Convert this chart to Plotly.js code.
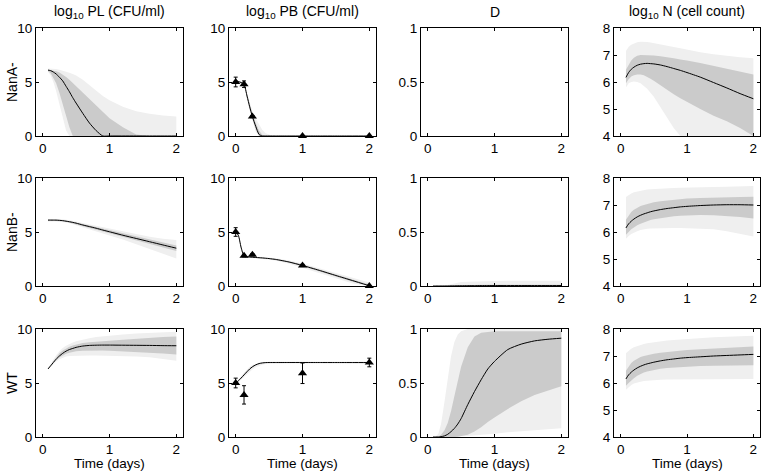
<!DOCTYPE html>
<html><head><meta charset="utf-8">
<script src="https://cdn.plot.ly/plotly-3.0.1.min.js"></script>
<style>html,body{margin:0;padding:0;background:#fff}#chart{width:763px;height:472px}</style>
</head><body><div id="chart"></div>
<script>
// time grids (days)
const T  = [0.08,0.12,0.16,0.2,0.25,0.3,0.35,0.4,0.45,0.5,0.6,0.7,0.8,0.9,1.0,1.2,1.4,1.6,1.8,2.0];
const TB = [0,0.04,0.08,0.125,0.17,0.21,0.25,0.3,0.35,0.4,0.45,0.5,0.55,0.6,0.8,1.0,1.25,1.5,1.75,2.0];
const obsT_A = [0,0.125,0.25,1,2];
const obsT_B = [0,0.125,0.25,1,2];
const obsT_W = [0,0.125,1,2];

const rowLabels = ["NanA-","NanB-","WT"];
const colTitles = ["log<sub>10</sub> PL (CFU/ml)","log<sub>10</sub> PB (CFU/ml)","D","log<sub>10</sub> N (cell count)"];

// ---- NanA- ----
const A_PL_line = [6.1,6.05,5.92,5.75,5.45,5.1,4.6,4.1,3.55,3.05,2.1,1.2,0.5,0,0,0,0,0,0,0];
const A_PL_dU   = [6.15,6.12,6.07,6.0,5.87,5.7,5.47,5.2,4.9,4.6,4.0,3.4,2.8,2.2,1.65,0.8,0.15,0,0,0];
const A_PL_dL   = [6.0,5.8,5.4,4.9,4.0,3.0,1.9,0.8,0,0,0,0,0,0,0,0,0,0,0,0];
const A_PL_lU   = [6.25,6.24,6.22,6.2,6.13,6.05,5.95,5.85,5.73,5.6,5.2,4.7,4.2,3.7,3.3,2.7,2.3,2.05,1.9,1.8];
const A_PL_lL   = [5.95,5.6,5.0,4.2,3.0,1.8,0.5,0,0,0,0,0,0,0,0,0,0,0,0,0];

const A_PB_line = [5.1,5.05,4.95,4.8,3.7,2.7,1.8,0.9,0.15,0,0,0,0,0,0,0,0,0,0,0];
const A_PB_dU   = [5.15,5.1,5.0,4.85,3.85,2.9,2.05,1.2,0.5,0.1,0,0,0,0,0,0,0,0,0,0];
const A_PB_dL   = [5.05,5.0,4.9,4.7,3.55,2.5,1.6,0.6,0,0,0,0,0,0,0,0,0,0,0,0];
const A_PB_lU   = [5.2,5.15,5.05,4.9,4.0,3.1,2.3,1.6,1.0,0.55,0.25,0.1,0.02,0,0,0,0,0,0,0];
const A_PB_lL   = [5.0,4.95,4.85,4.65,3.4,2.35,1.4,0.4,0,0,0,0,0,0,0,0,0,0,0,0];
const A_PB_obs  = [5.0,4.8,1.8,0,0];
const A_PB_err  = [0.45,0.3,0.1,0,0];

const A_N_line  = [6.17,6.35,6.47,6.55,6.62,6.66,6.68,6.69,6.68,6.67,6.63,6.57,6.5,6.43,6.35,6.18,5.98,5.78,5.57,5.38];
const A_N_dU    = [6.45,6.65,6.8,6.9,6.97,7.0,7.0,7.0,6.99,6.98,6.95,6.92,6.88,6.83,6.8,6.7,6.6,6.5,6.4,6.28];
const A_N_dL    = [5.95,6.1,6.2,6.25,6.28,6.28,6.25,6.2,6.12,6.05,5.9,5.72,5.55,5.4,5.25,5.0,4.75,4.55,4.3,4.0];
const A_N_lU    = [7.15,7.3,7.38,7.43,7.47,7.49,7.49,7.48,7.46,7.44,7.4,7.35,7.3,7.25,7.2,7.1,7.03,6.97,6.92,6.88];
const A_N_lL    = [5.8,5.95,6.0,6.02,6.0,5.95,5.85,5.75,5.6,5.45,5.1,4.7,4.3,4.0,4.0,4.0,4.0,4.0,4.0,4.0];

// ---- NanB- ----
const B_PL_line = [6.1,6.1,6.1,6.1,6.08,6.05,6.0,5.95,5.89,5.82,5.65,5.5,5.35,5.18,5.02,4.7,4.4,4.1,3.8,3.5];
const B_PL_dU   = [6.15,6.15,6.15,6.15,6.13,6.1,6.06,6.01,5.96,5.89,5.73,5.59,5.45,5.29,5.14,4.84,4.56,4.28,4.0,3.75];
const B_PL_dL   = [6.05,6.05,6.05,6.04,6.02,5.99,5.94,5.88,5.81,5.74,5.56,5.4,5.24,5.06,4.88,4.54,4.22,3.9,3.58,3.25];
const B_PL_lU   = [6.2,6.2,6.2,6.2,6.19,6.17,6.13,6.09,6.04,5.98,5.84,5.71,5.58,5.44,5.31,5.05,4.8,4.57,4.38,4.25];
const B_PL_lL   = [5.98,5.98,5.98,5.97,5.95,5.92,5.87,5.81,5.74,5.66,5.46,5.27,5.08,4.88,4.68,4.3,3.9,3.45,3.0,2.55];

const B_PB_line = [5.0,4.7,3.6,2.75,2.7,2.68,2.66,2.64,2.62,2.6,2.57,2.54,2.5,2.46,2.22,1.9,1.45,0.97,0.5,0.02];
const B_PB_dU   = [5.02,4.75,3.7,2.8,2.74,2.72,2.7,2.68,2.66,2.64,2.61,2.58,2.55,2.51,2.28,1.98,1.53,1.06,0.6,0.14];
const B_PB_dL   = [4.98,4.65,3.5,2.7,2.66,2.64,2.62,2.6,2.58,2.56,2.53,2.5,2.45,2.41,2.15,1.82,1.37,0.88,0.4,0];
const B_PB_lU   = [5.05,4.8,3.8,2.85,2.78,2.76,2.74,2.72,2.7,2.68,2.66,2.63,2.6,2.57,2.35,2.08,1.65,1.2,0.75,0.32];
const B_PB_lL   = [4.95,4.6,3.4,2.65,2.62,2.6,2.58,2.56,2.53,2.5,2.47,2.44,2.4,2.35,2.05,1.7,1.22,0.72,0.22,0];
const B_PB_obs  = [5.0,2.8,2.9,1.9,0.0];
const B_PB_err  = [0.4,0.1,0.1,0.1,0.05];

const B_D_line  = [0,0,0,0,0,0,0.001,0.001,0.002,0.002,0.003,0.003,0.004,0.004,0.004,0.004,0.004,0.004,0.004,0.004];
const B_D_dU    = [0,0,0,0,0.001,0.002,0.004,0.006,0.008,0.009,0.01,0.011,0.012,0.012,0.012,0.012,0.012,0.012,0.012,0.012];
const B_D_dL    = [0,0,0,0,0,0,0,0,0,0,0,0,0,0,0,0,0,0,0,0];
const B_D_lU    = [0,0,0,0.001,0.004,0.01,0.018,0.026,0.032,0.036,0.04,0.043,0.045,0.046,0.047,0.048,0.048,0.048,0.048,0.048];
const B_D_lL    = [0,0,0,0,0,0,0,0,0,0,0,0,0,0,0,0,0,0,0,0];

const B_N_line  = [6.15,6.3,6.4,6.48,6.56,6.62,6.67,6.71,6.75,6.78,6.83,6.87,6.9,6.93,6.95,6.98,7.0,7.01,7.01,7.0];
const B_N_dU    = [6.45,6.62,6.74,6.82,6.9,6.96,7.0,7.04,7.07,7.1,7.14,7.17,7.2,7.22,7.24,7.26,7.28,7.29,7.3,7.31];
const B_N_dL    = [5.9,6.0,6.1,6.17,6.25,6.31,6.36,6.4,6.44,6.47,6.52,6.55,6.58,6.6,6.62,6.63,6.62,6.6,6.56,6.5];
const B_N_lU    = [7.3,7.38,7.43,7.47,7.5,7.53,7.55,7.57,7.58,7.59,7.61,7.62,7.63,7.64,7.65,7.66,7.67,7.68,7.69,7.7];
const B_N_lL    = [5.75,5.85,5.93,5.98,6.03,6.07,6.1,6.12,6.13,6.14,6.15,6.15,6.15,6.15,6.15,6.13,6.1,6.03,5.94,5.83];

// ---- WT ----
const W_PL_line = [6.3,6.6,6.9,7.2,7.5,7.75,7.95,8.1,8.2,8.3,8.42,8.48,8.5,8.51,8.51,8.5,8.49,8.48,8.46,8.45];
const W_PL_dU   = [6.35,6.7,7.05,7.4,7.75,8.0,8.2,8.35,8.47,8.57,8.7,8.78,8.84,8.88,8.92,9.0,9.1,9.18,9.25,9.3];
const W_PL_dL   = [6.3,6.55,6.85,7.1,7.35,7.55,7.7,7.8,7.88,7.93,7.98,8.0,8.0,8.0,7.98,7.94,7.88,7.8,7.72,7.65];
const W_PL_lU   = [6.4,6.8,7.2,7.55,7.95,8.25,8.45,8.62,8.75,8.86,9.02,9.15,9.25,9.33,9.4,9.5,9.58,9.65,9.7,9.75];
const W_PL_lL   = [6.25,6.5,6.75,7.0,7.2,7.35,7.45,7.5,7.52,7.54,7.55,7.55,7.54,7.53,7.52,7.5,7.45,7.38,7.25,7.05];

const W_PB_line = [5.0,5.2,5.45,5.75,6.05,6.3,6.5,6.68,6.8,6.86,6.89,6.9,6.9,6.9,6.9,6.9,6.9,6.9,6.9,6.9];
const W_PB_dU   = [5.02,5.25,5.5,5.82,6.12,6.37,6.56,6.72,6.83,6.88,6.91,6.92,6.92,6.92,6.92,6.92,6.92,6.92,6.92,6.92];
const W_PB_dL   = [4.98,5.15,5.4,5.68,5.98,6.23,6.44,6.63,6.76,6.83,6.86,6.87,6.87,6.87,6.87,6.87,6.87,6.87,6.87,6.87];
const W_PB_lU   = [5.05,5.3,5.6,5.95,6.25,6.5,6.67,6.8,6.88,6.92,6.94,6.95,6.95,6.95,6.95,6.95,6.95,6.95,6.95,6.95];
const W_PB_lL   = [4.95,5.1,5.3,5.55,5.8,6.05,6.25,6.45,6.6,6.7,6.75,6.78,6.8,6.8,6.8,6.8,6.8,6.8,6.78,6.75];
const W_PB_obs  = [5.0,3.9,5.9,6.9];
const W_PB_err  = [0.45,0.85,0.95,0.4];

const W_D_line  = [0,0,0,0.003,0.01,0.025,0.05,0.08,0.12,0.17,0.3,0.42,0.53,0.63,0.7,0.81,0.86,0.89,0.905,0.915];
const W_D_dU    = [0,0,0.005,0.02,0.06,0.13,0.24,0.38,0.52,0.65,0.83,0.93,0.965,0.975,0.98,0.98,0.98,0.98,0.98,0.98];
const W_D_dL    = [0,0,0,0,0,0,0,0,0.003,0.006,0.02,0.05,0.09,0.14,0.18,0.26,0.33,0.39,0.43,0.47];
const W_D_lU    = [0,0.005,0.03,0.12,0.32,0.55,0.75,0.88,0.95,0.98,1.0,1.0,1.0,1.0,1.0,1.0,1.0,1.0,1.0,1.0];
const W_D_lL    = [0,0,0,0,0,0,0,0,0,0,0.005,0.01,0.018,0.025,0.03,0.045,0.055,0.065,0.072,0.08];

const W_N_line  = [6.15,6.3,6.4,6.48,6.56,6.62,6.67,6.71,6.74,6.77,6.82,6.86,6.89,6.92,6.94,6.97,7.0,7.02,7.04,7.06];
const W_N_dU    = [6.45,6.62,6.74,6.82,6.9,6.96,7.0,7.03,7.06,7.08,7.12,7.15,7.18,7.2,7.22,7.25,7.28,7.31,7.33,7.35];
const W_N_dL    = [5.9,6.0,6.1,6.18,6.27,6.34,6.39,6.43,6.46,6.49,6.53,6.56,6.58,6.6,6.61,6.63,6.64,6.65,6.66,6.66];
const W_N_lU    = [7.1,7.2,7.27,7.32,7.37,7.41,7.44,7.47,7.49,7.51,7.54,7.57,7.59,7.61,7.63,7.66,7.69,7.71,7.73,7.75];
const W_N_lL    = [5.75,5.85,5.93,5.98,6.02,6.05,6.07,6.09,6.1,6.11,6.12,6.13,6.13,6.14,6.14,6.14,6.14,6.15,6.15,6.15];

const LIGHT = '#efefef', DARK = '#cbcbcb';
const FONT = 'Liberation Sans, Arial, sans-serif';

const W = 763, H = 472;
const colPx = [[36,183],[229,376],[421,568],[614,760]];
const rowPx = [[28,136],[178,286],[329,437]];

const traces = [];
function ax(k){ return k===1 ? '' : String(k); }
function band(k, t, up, lo, color){
  traces.push({type:'scatter', mode:'lines', x:t.concat(t.slice().reverse()), y:up.concat(lo.slice().reverse()),
    fill:'toself', fillcolor:color, line:{width:0, color:color}, hoverinfo:'skip', showlegend:false,
    xaxis:'x'+ax(k), yaxis:'y'+ax(k)});
}
function line(k, t, y){
  traces.push({type:'scatter', mode:'lines', x:t, y:y, line:{color:'#000', width:1, shape:'spline', smoothing:0.6},
    showlegend:false, xaxis:'x'+ax(k), yaxis:'y'+ax(k)});
}
function obs(k, t, y, e){
  traces.push({type:'scatter', mode:'markers', x:t, y:y, marker:{symbol:'triangle-up', size:8, color:'#000'},
    error_y:{type:'data', array:e, visible:true, color:'#000', thickness:1, width:2},
    cliponaxis:false, showlegend:false, xaxis:'x'+ax(k), yaxis:'y'+ax(k)});
}
function panel(k, t, l, dU, dL, lU, lL){
  band(k, t, lU, lL, LIGHT);
  band(k, t, dU, dL, DARK);
  line(k, t, l);
}

panel(1, T, A_PL_line, A_PL_dU, A_PL_dL, A_PL_lU, A_PL_lL);
panel(2, TB, A_PB_line, A_PB_dU, A_PB_dL, A_PB_lU, A_PB_lL); obs(2, obsT_A, A_PB_obs, A_PB_err);
traces.push({type:'scatter', mode:'lines', x:[], y:[], xaxis:'x3', yaxis:'y3', showlegend:false});
panel(4, T, A_N_line, A_N_dU, A_N_dL, A_N_lU, A_N_lL);

panel(5, T, B_PL_line, B_PL_dU, B_PL_dL, B_PL_lU, B_PL_lL);
panel(6, TB, B_PB_line, B_PB_dU, B_PB_dL, B_PB_lU, B_PB_lL); obs(6, obsT_B, B_PB_obs, B_PB_err);
panel(7, T, B_D_line, B_D_dU, B_D_dL, B_D_lU, B_D_lL);
panel(8, T, B_N_line, B_N_dU, B_N_dL, B_N_lU, B_N_lL);

panel(9, T, W_PL_line, W_PL_dU, W_PL_dL, W_PL_lU, W_PL_lL);
panel(10, TB, W_PB_line, W_PB_dU, W_PB_dL, W_PB_lU, W_PB_lL); obs(10, obsT_W, W_PB_obs, W_PB_err);
panel(11, T, W_D_line, W_D_dU, W_D_dL, W_D_lU, W_D_lL);
panel(12, T, W_N_line, W_N_dU, W_N_dL, W_N_lU, W_N_lL);

const yCfg = [
  {range:[0,10], tickvals:[0,5,10]},
  {range:[0,10], tickvals:[0,5,10]},
  {range:[0,1], tickvals:[0,0.5,1], ticktext:['0','0.5','1']},
  {range:[4,8], tickvals:[4,5,6,7,8]}
];

const layout = {
  width:W, height:H, margin:{l:0,r:0,t:0,b:0}, paper_bgcolor:'#fff', plot_bgcolor:'#fff',
  showlegend:false, font:{family:FONT, size:12, color:'#000'}, annotations:[]
};
const common = {showline:true, linecolor:'#000', linewidth:1, mirror:'ticks', ticks:'inside', ticklen:3,
  tickcolor:'#000', showgrid:false, zeroline:false, fixedrange:true,
  tickfont:{family:FONT, size:13.5, color:'#000'}};

for(let r=0;r<3;r++){
  for(let c=0;c<4;c++){
    const k = r*4+c+1;
    const xd = [colPx[c][0]/W, colPx[c][1]/W];
    const yd = [1-rowPx[r][1]/H, 1-rowPx[r][0]/H];
    layout['xaxis'+ax(k)] = Object.assign({}, common, {domain:xd, range:[-0.1,2.1], tickvals:[0,1,2], anchor:'y'+ax(k)});
    layout['yaxis'+ax(k)] = Object.assign({}, common, yCfg[c], {domain:yd, anchor:'x'+ax(k)});
  }
}
for(let c=0;c<4;c++){
  layout.annotations.push({text:colTitles[c], xref:'paper', yref:'paper', x:(colPx[c][0]+colPx[c][1])/2/W, y:1-12/H,
    xanchor:'center', yanchor:'middle', showarrow:false, font:{family:FONT, size:14, color:'#000'}});
  layout.annotations.push({text:'Time (days)', xref:'paper', yref:'paper', x:(colPx[c][0]+colPx[c][1])/2/W, y:1-463/H,
    xanchor:'center', yanchor:'middle', showarrow:false, font:{family:FONT, size:13.5, color:'#000'}});
}
for(let r=0;r<3;r++){
  layout.annotations.push({text:rowLabels[r], xref:'paper', yref:'paper', x:12/W, y:1-(rowPx[r][0]+rowPx[r][1])/2/H,
    xanchor:'center', yanchor:'middle', textangle:-90, showarrow:false, font:{family:FONT, size:14, color:'#000'}});
}

Plotly.newPlot('chart', traces, layout, {staticPlot:true, displayModeBar:false});
</script></body></html>
